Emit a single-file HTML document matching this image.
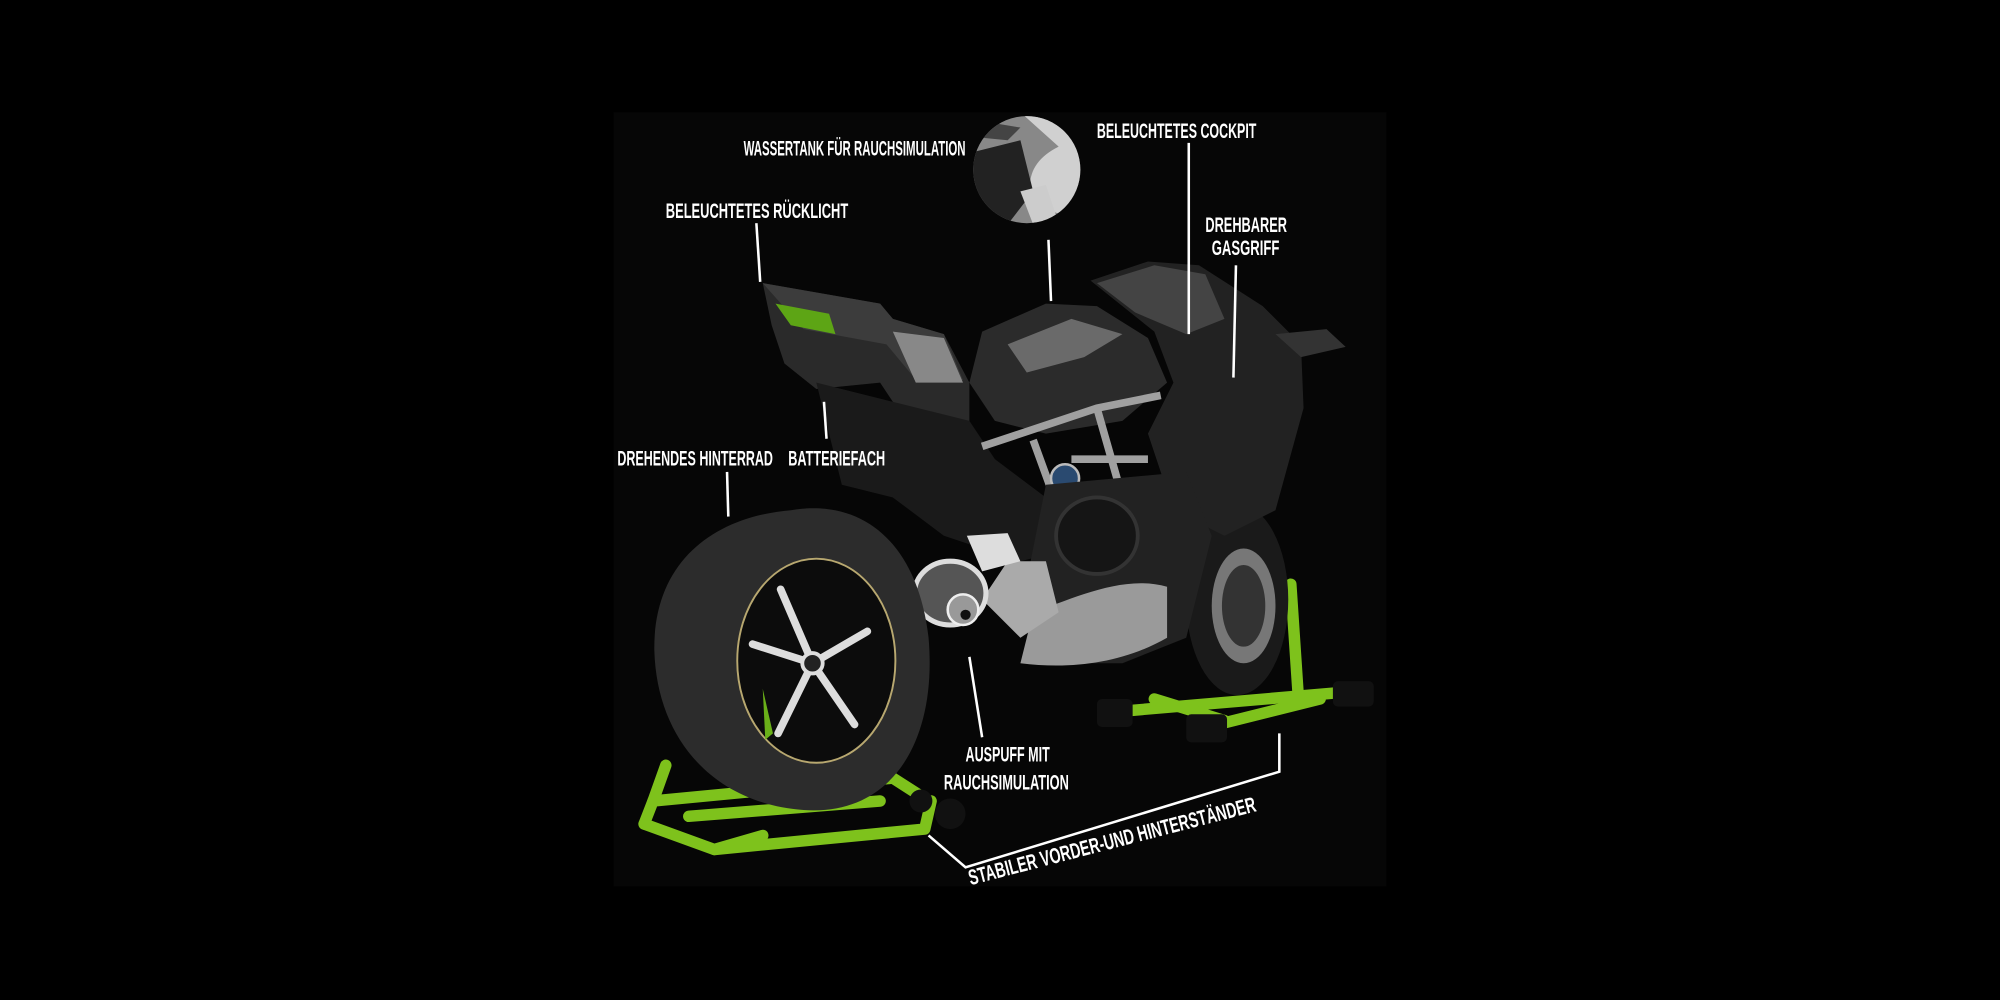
<!DOCTYPE html>
<html><head><meta charset="utf-8"><style>
html,body{margin:0;padding:0;background:#000;width:2000px;height:1000px;overflow:hidden}
svg{display:block}
text{font-family:"Liberation Sans Narrow","Liberation Sans",sans-serif;font-weight:bold;fill:#fff;font-size:17px}
</style></head><body>
<svg width="2000" height="1000" viewBox="0 0 2000 1000">
<rect width="2000" height="1000" fill="#000"/>
<defs>
<clipPath id="c"><circle cx="805" cy="133" r="42"/></clipPath>
<clipPath id="sq"><rect x="481" y="88" width="606" height="607"/></clipPath>
</defs>
<g transform="scale(1.2755)">
<rect x="481" y="88" width="606" height="607" fill="#060606"/>
<g clip-path="url(#sq)">
<circle cx="805" cy="133" r="42" fill="#888"/>
<g clip-path="url(#c)">
<path d="M800 88 L850 88 L850 175 L810 160 Q800 130 830 115 Z" fill="#d0d0d0"/>
<path d="M760 120 L800 110 L810 150 L790 176 L760 176Z" fill="#222"/>
<path d="M770 95 L800 100 L790 110 L770 108Z" fill="#444"/>
<path d="M800 150 L820 145 L830 175 L810 176Z" fill="#ccc"/>
</g>
<g stroke="#7ec21c" stroke-width="9" fill="none" stroke-linecap="round" stroke-linejoin="round">
<path d="M505 646 L560 666 L725 650 L730 628"/>
<path d="M505 646 L512 628 L700 610 L728 628"/>
<path d="M540 640 L690 628"/>
<path d="M512 628 L522 600"/>
<path d="M560 666 L598 655"/>
</g>
<circle cx="745" cy="638" r="12" fill="#111"/>
<circle cx="722" cy="628" r="9" fill="#111"/>
<g stroke="#7ec21c" stroke-width="9" fill="none" stroke-linecap="round">
<path d="M875 558 L1062 542"/>
<path d="M955 568 L1035 548"/>
<path d="M1012 458 L1018 548"/>
<path d="M905 548 L960 565"/>
</g>
<rect x="860" y="548" width="28" height="22" rx="4" fill="#111"/>
<rect x="1045" y="534" width="32" height="20" rx="4" fill="#111"/>
<rect x="930" y="560" width="32" height="22" rx="4" fill="#111"/>
<ellipse cx="970" cy="470" rx="40" ry="75" fill="#1a1a1a"/>
<ellipse cx="975" cy="475" rx="25" ry="45" fill="#777"/>
<ellipse cx="975" cy="475" rx="17" ry="32" fill="#333"/>
<path d="M598 222 L690 238 L700 250 L740 262 L760 300 L760 330 L745 348 L720 345 L690 300 L640 305 L615 285 L605 255 Z" fill="#2a2a2a"/>
<path d="M598 222 L690 238 L700 250 L740 262 L755 298 L720 300 L695 270 L630 258 Z" fill="#3c3c3c"/>
<path d="M608 238 L650 246 L655 262 L620 255Z" fill="#5da515"/>
<path d="M700 260 L740 265 L755 300 L718 300Z" fill="#888"/>
<path d="M640 300 L760 330 L780 360 L820 390 L840 430 L800 440 L740 420 L700 390 L660 380Z" fill="#1a1a1a"/>
<path d="M760 300 L770 260 L820 238 L860 240 L900 265 L915 300 L880 330 L820 340 L780 330 Z" fill="#2b2b2b"/>
<path d="M790 270 L840 250 L880 262 L850 280 L805 292Z" fill="#6a6a6a"/>
<path d="M855 220 L900 205 L940 208 L990 240 L1020 270 L1022 320 L1000 400 L960 420 L920 400 L900 340 L920 300 L905 260 Z" fill="#222"/>
<path d="M860 222 L905 208 L945 215 L960 250 L930 262 L890 245Z" fill="#444"/>
<path d="M1000 262 L1040 258 L1055 272 L1020 280Z" fill="#333"/>
<g stroke="#a0a0a0" stroke-width="6" fill="none">
<path d="M770 350 L860 320 L910 310 M860 320 L880 390 M810 345 L830 400 M840 360 L900 360"/>
</g>
<circle cx="835" cy="375" r="11" fill="#2a4a70" stroke="#bbb" stroke-width="2"/>
<path d="M820 380 L930 370 L950 420 L930 500 L880 520 L830 520 L800 480 Z" fill="#222"/>
<ellipse cx="860" cy="420" rx="32" ry="30" fill="#151515" stroke="#333" stroke-width="3"/>
<path d="M810 480 C840 470 880 450 915 460 L915 500 C880 520 840 525 800 520Z" fill="#9a9a9a"/>
<path d="M790 440 L820 440 L830 480 L800 500 L770 470 Z" fill="#aaa"/>
<path d="M758 420 L790 418 L800 440 L770 448Z" fill="#ddd"/>
<ellipse cx="745" cy="465" rx="28" ry="25" fill="#555" stroke="#ddd" stroke-width="4"/>
<ellipse cx="755" cy="478" rx="12" ry="12" fill="#999" stroke="#eee" stroke-width="2"/>
<circle cx="757" cy="482" r="4" fill="#111"/>
<path d="M620 400 C680 390 720 430 728 500 C735 580 700 640 630 635 C560 630 515 580 513 510 C512 440 560 405 620 400Z" fill="#2c2c2c"/>
<ellipse cx="640" cy="518" rx="62" ry="80" fill="#0c0c0c" stroke="#b8a870" stroke-width="1.5"/>
<g stroke="#ddd" stroke-width="6" fill="none" stroke-linecap="round">
<path d="M637 520 L612 462 M637 520 L680 495 M637 520 L670 568 M637 520 L610 575 M637 520 L590 505"/>
</g>
<circle cx="637" cy="520" r="8" fill="#222" stroke="#ddd" stroke-width="3"/>
<path d="M598 540 L606 575 L600 580Z" fill="#6ab019"/>
</g>
<g stroke="#fff" stroke-width="2" fill="none">
<line x1="593" y1="175" x2="596" y2="221"/>
<line x1="822" y1="188" x2="824" y2="236"/>
<line x1="932" y1="112" x2="932" y2="262"/>
<line x1="969" y1="208" x2="967" y2="296"/>
<line x1="570" y1="370" x2="571" y2="405"/>
<line x1="648" y1="344" x2="646" y2="315"/>
<line x1="760" y1="515" x2="770" y2="578"/>
<path d="M728 655 L757 680 L1003 605 L1003 575"/>
</g>
<text x="583" y="122" textLength="174" lengthAdjust="spacingAndGlyphs">WASSERTANK FÜR RAUCHSIMULATION</text>
<text x="860" y="108" textLength="125" lengthAdjust="spacingAndGlyphs">BELEUCHTETES COCKPIT</text>
<text x="522" y="171" textLength="143" lengthAdjust="spacingAndGlyphs">BELEUCHTETES RÜCKLICHT</text>
<text x="945" y="182" textLength="64" lengthAdjust="spacingAndGlyphs">DREHBARER</text>
<text x="950" y="200" textLength="53" lengthAdjust="spacingAndGlyphs">GASGRIFF</text>
<text x="484" y="365" textLength="122" lengthAdjust="spacingAndGlyphs">DREHENDES HINTERRAD</text>
<text x="618" y="365" textLength="76" lengthAdjust="spacingAndGlyphs">BATTERIEFACH</text>
<text x="757" y="597" textLength="66" lengthAdjust="spacingAndGlyphs">AUSPUFF MIT</text>
<text x="740" y="619" textLength="98" lengthAdjust="spacingAndGlyphs">RAUCHSIMULATION</text>
<text transform="translate(761,694) rotate(-14.5)" textLength="232" lengthAdjust="spacingAndGlyphs">STABILER VORDER-UND HINTERSTÄNDER</text>
</g>
</svg>
</body></html>
